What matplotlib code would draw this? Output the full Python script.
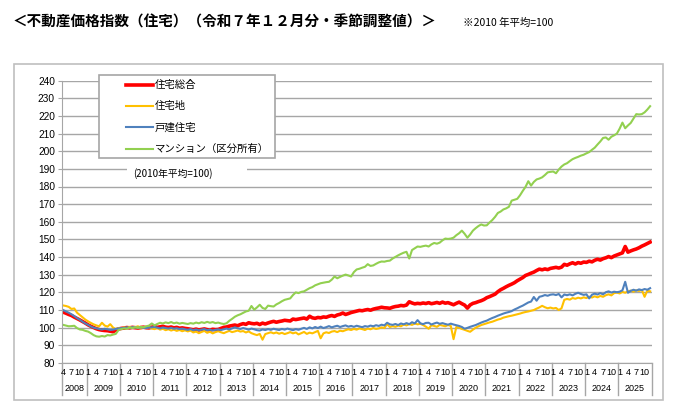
import matplotlib
matplotlib.use("Agg")
import matplotlib.pyplot as plt
from matplotlib.patches import Rectangle
from matplotlib.lines import Line2D
import numpy as np
import pandas as pd

plt.rcParams['font.family'] = ['Liberation Sans', 'Noto Sans CJK JP']
JP = ['Noto Sans CJK JP', 'DejaVu Sans']

# monthly categories, Apr 2008 .. Dec 2025
months = pd.period_range('2008-04', '2025-12', freq='M')
years = list(range(2008, 2026))
month_ticks = [1, 4, 7, 10]

series_names = ["住宅総合", "住宅地", "戸建住宅", "マンション（区分所有）"]
series_colors = ["#FF0000", "#FFC000", "#4F81BD", "#92D050"]

# 住宅総合
total = [
    108.8, 108.2, 107.5, 106.9, 106.0, 105.2, 104.4, 103.5, 102.6,
    101.6, 100.8, 100.1, 99.4, 98.9, 98.6, 98.4, 98.3, 98.0, 97.7, 98.6, 99.3,
    99.6, 99.8, 100.1, 99.9, 100.2, 100.0, 99.8, 100.1, 100.3, 100.0, 99.9, 100.3,
    100.6, 100.2, 100.5, 100.8, 100.3, 100.1, 100.4, 99.9, 100.2, 99.7, 99.9, 99.6,
    99.4, 99.1, 98.8, 99.2, 98.7, 99.0, 99.3, 98.9, 98.6, 99.1, 98.9, 99.0,
    99.6, 100.2, 100.4, 100.9, 101.2, 101.5, 101.1, 101.8, 102.3, 101.9, 102.8, 102.4,
    102.2, 102.5, 101.8, 102.6, 102.1, 102.7, 103.2, 103.6, 103.1, 103.5, 103.8, 104.2,
    104.0, 103.8, 104.9, 104.6, 104.9, 105.2, 105.5, 104.9, 106.5, 105.6, 105.3, 105.8,
    105.6, 106.1, 105.9, 106.5, 106.9, 106.4, 107.2, 107.6, 108.3, 107.5, 108.0, 108.6,
    109.0, 109.4, 109.8, 109.6, 110.0, 110.3, 109.9, 110.5, 110.9, 111.2, 111.6, 111.3,
    111.2, 111.0, 111.6, 112.0, 112.2, 112.6, 112.4, 112.8, 114.7, 114.0, 113.5, 113.8,
    113.6, 114.0, 113.7, 114.2, 113.6, 113.9, 114.3, 113.8, 114.5, 113.9, 114.2, 113.6,
    113.0, 113.8, 114.5, 113.6, 112.8, 111.1, 112.9, 113.8, 114.2, 114.8, 115.3, 116.0,
    117.0, 117.6, 118.3, 119.0, 120.4, 121.5, 122.3, 123.2, 124.0, 124.7, 125.5, 126.6,
    127.5, 128.4, 129.6, 130.2, 130.9, 131.5, 132.4, 133.2, 132.8, 133.3, 132.9, 133.6,
    133.9, 134.2, 133.8, 134.3, 135.9, 135.4, 136.2, 136.8, 136.1, 136.9, 136.5, 137.2,
    137.0, 137.7, 137.3, 138.2, 138.8, 138.3, 139.1, 139.6, 140.3, 139.7, 140.6, 141.2,
    141.8, 142.4, 146.0, 142.8, 143.5, 144.1, 144.6, 145.3, 146.2, 146.9, 147.7, 148.5,
]

# 住宅地
land = [
    112.6, 112.3, 111.8, 110.6, 110.9, 108.5, 107.2, 105.9, 104.6,
    103.6, 102.7, 101.9, 101.3, 100.8, 102.8, 101.2, 100.6, 102.0, 100.1, 99.2, 99.8,
    99.4, 100.2, 99.8, 100.5, 99.9, 100.3, 100.8, 99.6, 100.2, 99.8, 100.4, 99.5,
    99.2, 99.8, 98.9, 99.4, 98.6, 99.1, 98.4, 98.9, 98.2, 98.7, 98.0, 98.5,
    97.9, 98.4, 97.3, 97.8, 96.9, 97.6, 98.2, 97.1, 97.7, 96.8, 97.5, 98.0,
    97.4, 96.9, 97.6, 98.2, 97.5, 97.9, 98.4, 97.8, 98.1, 97.3, 97.9, 96.9,
    96.3, 95.8, 96.5, 93.2, 96.4, 96.9, 97.4, 96.8, 97.3, 96.6, 97.1, 96.4,
    96.9, 97.5, 96.8, 97.3, 96.2, 96.9, 97.6, 96.5, 97.2, 96.8, 97.5, 98.2,
    94.0, 96.8, 97.4, 97.0, 97.8, 98.1, 97.5, 98.3, 98.0, 98.6, 99.1, 98.7,
    99.3, 98.9, 99.6, 99.2, 98.7, 99.5, 99.1, 99.8, 99.3, 99.6, 100.2, 99.8,
    102.0, 100.4, 100.9, 100.5, 101.2, 100.8, 101.8, 101.3, 102.0, 101.6, 102.4, 101.9,
    102.2, 101.5, 100.6, 99.4, 101.4, 101.0, 100.5, 101.6, 101.2, 100.8, 101.5, 101.0,
    93.5, 100.4, 100.0, 99.3, 98.8, 98.2, 97.7, 98.9, 100.0, 100.8, 101.5, 102.0,
    102.5, 103.0, 103.4, 104.0, 104.6, 105.0, 105.7, 106.1, 106.5, 106.8, 107.2, 107.6,
    108.0, 108.5, 108.9, 109.2, 109.6, 110.0, 110.8, 111.5, 112.4, 111.6, 111.0, 111.4,
    110.9, 111.2, 110.0, 111.0, 115.8, 116.3, 115.9, 116.8, 116.4, 117.0, 116.6, 117.2,
    116.8, 117.6, 117.1, 117.8, 117.2, 118.0, 117.5, 118.4, 118.9, 118.3, 119.6, 119.9,
    119.4, 120.3, 119.8, 120.6, 121.0, 120.4, 121.2, 120.8, 121.4, 117.5, 121.0, 120.6,
]

# 戸建住宅
detached = [
    110.0, 109.2, 108.5, 107.6, 106.6, 105.4, 104.5, 103.4, 102.4,
    101.6, 100.7, 100.0, 99.6, 99.3, 99.0, 99.4, 99.1, 98.7, 98.9, 99.3, 99.6,
    99.7, 99.9, 100.2, 99.8, 100.3, 100.1, 99.9, 100.2, 100.0, 99.8, 100.1, 100.2,
    100.4, 100.0, 99.6, 100.1, 99.8, 99.5, 99.9, 99.4, 99.7, 99.2, 99.5, 99.1,
    98.8, 99.2, 98.6, 99.0, 98.5, 98.9, 99.2, 98.6, 98.9, 98.4, 98.8, 99.0,
    98.7, 99.1, 99.5, 99.0, 99.6, 100.2, 99.7, 99.3, 99.8, 99.4, 98.9, 99.5,
    99.1, 98.6, 98.4, 99.0, 98.7, 99.2, 98.8, 99.4, 99.0, 98.7, 99.3, 98.9,
    99.5, 99.0, 98.6, 99.2, 98.8, 99.4, 99.9, 99.3, 100.2, 99.6, 100.4, 99.8,
    100.6, 99.8, 100.3, 100.9, 100.2, 100.7, 101.1, 100.4, 100.9, 101.3, 100.6, 101.0,
    100.5, 101.1, 100.7, 100.3, 100.9, 100.6, 101.2, 100.8, 101.4, 101.0, 101.7, 101.3,
    102.8, 101.9, 101.6, 102.1, 101.5, 102.4, 101.9, 102.6, 102.0, 103.1, 102.4, 104.3,
    102.5, 102.0, 102.7, 102.8, 101.8, 102.4, 102.9, 102.2, 102.6, 102.1, 101.7, 102.3,
    101.8, 101.4, 101.0, 100.4, 99.4, 99.9, 100.5, 101.0, 101.5, 102.2, 102.9, 103.5,
    104.0, 104.8, 105.5, 106.1, 106.8, 107.4, 108.0, 108.5, 108.9, 109.4, 110.3, 111.0,
    111.8, 112.5, 113.4, 114.3, 114.8, 117.4, 115.3, 117.5, 117.9, 118.5, 118.1, 118.7,
    118.9, 118.5, 119.1, 117.2, 118.8, 118.4, 118.9, 118.3, 119.2, 119.8, 119.1, 118.6,
    118.9, 116.6, 118.7, 119.3, 118.8, 119.6, 118.9, 120.1, 120.6, 119.9, 120.4, 120.1,
    120.4, 121.2, 126.0, 119.8, 120.9, 121.5, 121.0, 121.7, 121.3, 121.9, 121.5, 122.4,
]

# マンション（区分所有）
mansion = [
    101.6, 101.2, 100.8, 100.9, 101.1, 99.8, 99.0, 98.8, 98.2,
    97.8, 96.9, 95.8, 95.1, 94.9, 95.3, 95.0, 95.8, 95.6, 96.1, 96.5, 98.7,
    99.2, 99.6, 99.4, 100.1, 99.8, 100.3, 99.9, 100.5, 100.2, 100.8, 101.2, 102.4,
    101.3, 102.1, 102.8, 102.4, 103.0, 102.6, 103.2, 102.5, 102.9, 102.3, 102.7, 102.4,
    102.1, 102.6, 102.3, 102.9, 102.5, 103.1, 102.7, 103.3, 102.8, 103.2, 102.6, 102.9,
    102.4, 102.1, 102.5, 103.9, 105.0, 106.2, 107.0, 107.6, 108.4, 109.2, 109.6, 112.3,
    110.2, 111.5, 113.0, 111.2, 110.6, 112.5, 112.2, 112.0, 113.2, 114.0, 115.0, 115.8,
    116.2, 116.6, 118.5, 120.0, 119.6, 120.3, 120.6, 121.5, 122.4, 123.0, 124.0, 124.6,
    125.2, 125.5, 125.8, 126.0, 127.2, 129.0, 128.0, 128.8, 129.5, 130.1, 129.6, 129.0,
    131.5, 133.0, 133.4, 134.0, 134.5, 136.0, 135.0, 135.3, 136.2, 137.0, 137.5, 137.4,
    137.8, 138.0, 139.2, 140.1, 141.0, 141.8, 142.5, 143.0, 139.2, 144.0, 145.0, 146.0,
    145.8, 146.2, 146.5, 146.0, 147.2, 148.0, 147.6, 148.2, 149.5, 150.5, 150.3, 150.5,
    151.0, 152.4, 153.5, 155.0, 153.2, 151.0, 152.8, 155.0, 156.4, 157.6, 158.5, 157.9,
    158.0, 159.6, 161.0, 162.8, 165.0, 165.8, 167.0, 167.6, 168.5, 172.0, 172.5, 173.0,
    175.0, 177.5, 179.8, 183.0, 180.5, 182.6, 184.0, 184.5, 185.2, 186.5, 188.0, 188.3,
    188.5, 187.5, 189.6, 191.3, 192.5, 193.2, 194.4, 195.5, 196.2, 196.8, 197.5, 198.0,
    198.8, 199.5, 200.8, 202.0, 203.8, 205.5, 207.5, 207.8, 206.5, 208.2, 209.0, 210.0,
    212.8, 216.2, 213.0, 214.6, 216.0, 218.5, 221.0, 220.8, 221.0, 222.0, 223.6, 225.5,
]

W, H = 679, 418
fx = lambda px: px / W
fy = lambda py: 1 - py / H
GRID = '#A6A6A6'

fig = plt.figure(figsize=(W / 100, H / 100), dpi=100)
ax = fig.add_axes([fx(61.8), fy(363), fx(651.5) - fx(61.8), fy(80.6) - fy(363)])

x = np.arange(len(months))
widths = [2.6, 1.5, 1.5, 1.5]
for vals, c, lw in zip([total, land, detached, mansion], series_colors, widths):
    ax.plot(x, vals, color=c, lw=lw, solid_joinstyle='round')

ax.set_xlim(-0.5, len(months) - 0.5)
ax.set_ylim(80, 240)
ax.set_yticks(range(80, 241, 10))
ax.yaxis.grid(True, color=GRID, lw=1.0)
ax.set_axisbelow(True)
for s in ['top', 'right']:
    ax.spines[s].set_visible(False)
ax.spines['left'].set_color(GRID)
ax.spines['bottom'].set_color(GRID)
ax.tick_params(axis='y', length=3, color=GRID, labelsize=7.3, pad=2)
ax.set_xticks([])

# two-level category axis
xt = ax.get_xaxis_transform()
y_mon, y_year, y_sep = -0.034, -0.092, -0.113
jan_idx = [i for i, p in enumerate(months) if p.month == 1]
for b in [-0.5] + [i - 0.5 for i in jan_idx] + [len(months) - 0.5]:
    ax.plot([b, b], [0, y_sep], transform=xt, color=GRID, lw=1.0, clip_on=False)
for i, p in enumerate(months):
    if p.month in month_ticks:
        ax.text(i, y_mon, str(p.month), transform=xt, ha='center', va='center', fontsize=6.5)
for yr in years:
    idx = [i for i, p in enumerate(months) if p.year == yr]
    ax.text((idx[0] + idx[-1]) / 2, y_year, str(yr), transform=xt,
            ha='center', va='center', fontsize=6.5)

# outer chart border
fig.add_artist(Rectangle((fx(14), fy(400)), fx(663) - fx(14), fy(64) - fy(400),
                         transform=fig.transFigure, fill=False, edgecolor='#BFBFBF', lw=1.2))

# legend box
fig.add_artist(Rectangle((fx(99), fy(158)), fx(275) - fx(99), fy(75) - fy(158),
                         transform=fig.transFigure, facecolor='white', edgecolor=GRID, lw=1.2))
for k, (name, c, lw) in enumerate(zip(series_names, series_colors, widths)):
    yy = 85 + k * 21.2
    fig.add_artist(Line2D([fx(126), fx(153)], [fy(yy), fy(yy)], transform=fig.transFigure,
                          color=c, lw=lw))
    fig.text(fx(155), fy(yy), name, family=JP, fontsize=7.5, va='center', ha='left')

# base note on the chart
fig.add_artist(Rectangle((fx(127), fy(180)), fx(247) - fx(127), fy(166) - fy(180),
                         transform=fig.transFigure, facecolor='white', edgecolor='none'))
fig.text(fx(133), fy(173.5), "(2010年平均=100)", family=JP, fontsize=7, va='center', ha='left')

# title
fig.text(fx(13), fy(22), "＜不動産価格指数（住宅）（令和７年１２月分・季節調整値）＞",
         family=JP, fontsize=10.5, fontweight='bold', va='center', ha='left')
fig.text(fx(463), fy(23), "※2010 年平均=100", family=JP, fontsize=7.5, va='center', ha='left')

fig.savefig("out.png", dpi=100)
